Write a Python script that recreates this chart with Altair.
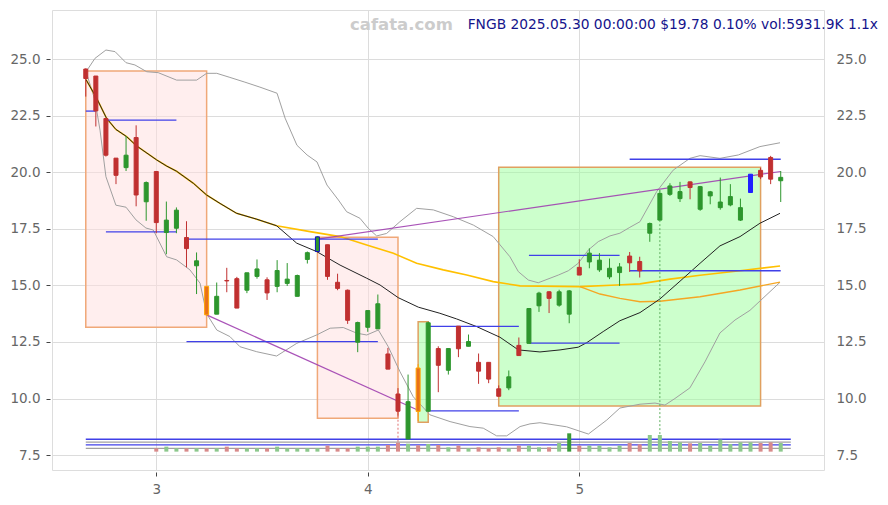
import altair as alt
import pandas as pd

TITLE = "FNGB 2025.05.30 00:00:00 $19.78 0.10% vol:5931.9K 1.1x"
WATERMARK = "cafata.com"

# ---- daily candles ----
OPEN = [24.57, 24.26, 22.38, 20.63, 20.21, 21.54, 18.70, 20.04, 17.34, 17.53,
        17.12, 15.87, 14.96, 13.73, 15.22, 15.30, 14.79, 15.40, 15.25, 14.96,
        15.09, 14.52, 16.15, 16.50, 16.80, 15.14, 14.79, 12.49, 13.15, 13.08,
        11.97, 10.20, 8.21, 11.35, 9.44, 12.21, 11.25, 13.20, 12.31, 11.60,
        11.60, 10.43, 10.47, 12.35, 12.44, 14.10, 14.72, 14.13, 13.73, 15.80,
        16.04, 15.69, 15.38, 15.57, 16.30, 16.06, 17.31, 17.89, 19.03, 18.84,
        19.58, 18.37, 18.96, 18.44, 18.56, 17.89, 19.11, 20.09, 20.66, 19.63]
HIGH = [24.60, 24.26, 22.38, 20.63, 21.61, 22.08, 19.60, 20.04, 18.71, 18.45,
        17.84, 16.46, 14.96, 15.13, 15.78, 15.38, 15.56, 16.15, 15.36, 16.12,
        15.99, 15.48, 16.50, 17.16, 16.80, 15.52, 14.82, 13.40, 13.89, 14.60,
        12.24, 10.46, 11.06, 11.52, 13.40, 12.31, 12.21, 13.20, 12.83, 11.99,
        11.60, 10.58, 11.24, 12.70, 13.98, 14.72, 14.75, 14.81, 14.80, 16.16,
        16.64, 16.43, 16.19, 15.99, 16.48, 16.27, 17.78, 19.22, 19.52, 19.58,
        19.60, 19.40, 19.18, 19.77, 19.48, 18.84, 19.92, 20.21, 20.73, 20.06]
LOW = [23.35, 22.03, 20.70, 19.48, 20.06, 18.50, 17.86, 17.31, 16.38, 17.31,
       15.80, 14.62, 13.66, 13.73, 14.70, 14.00, 14.66, 15.30, 14.36, 14.70,
       14.98, 14.52, 15.97, 16.50, 15.25, 14.79, 13.30, 12.05, 12.95, 13.08,
       11.30, 9.24, 8.21, 9.00, 9.42, 10.28, 11.06, 11.83, 12.31, 10.65,
       10.68, 10.10, 10.37, 11.90, 12.44, 13.83, 13.78, 14.06, 13.33, 15.46,
       15.76, 15.60, 15.28, 14.98, 15.60, 15.35, 16.93, 17.89, 18.96, 18.69,
       18.81, 18.30, 18.59, 18.35, 18.50, 17.85, 19.11, 19.70, 19.48, 18.69]
CLOSE = [24.15, 22.72, 20.76, 19.87, 20.76, 19.00, 19.55, 17.78, 17.89, 18.33,
         16.63, 16.09, 13.70, 14.52, 15.20, 14.00, 15.56, 15.73, 14.67, 15.66,
         15.28, 15.44, 16.45, 17.15, 15.40, 14.87, 13.46, 13.36, 13.89, 14.19,
         11.30, 9.44, 9.86, 9.43, 13.35, 11.47, 12.21, 12.20, 12.52, 11.21,
         10.86, 10.10, 10.96, 11.90, 13.98, 14.66, 14.43, 14.72, 14.76, 15.46,
         16.43, 16.12, 15.76, 15.82, 16.00, 15.65, 17.74, 19.07, 19.40, 19.15,
         19.33, 19.37, 19.14, 18.69, 18.93, 18.44, 19.92, 19.80, 19.70, 19.78]
VOLUME_K = [None, None, None, None, None, None, None,
            2280, 3420, 2280, 2280, 2280, 2280, 2280, 3420, 2280, 2280,
            2280, 2280, 3420, 2280, 2280, 2280, 2280, 4100, 2280, 2280,
            3420, 3420, 3420, 4560, 6160, 5470, 4330, 5250, 4560, 2960,
            4100, 2280, 2960, 2280, 2960, 2280, 4100, 4100, 2960, 2960,
            5930, 12540, 4100, 4100, 4100, 2960, 4100, 5930, 5020, 11400,
            11400, 7300, 6380, 5700, 5930, 4100, 8210, 5250, 6380, 6380,
            5930, 6380, 5932]
HIGHLIGHT = {12: "orange", 23: "bluegreen", 33: "orange", 66: "blue"}
VOL_HIGHLIGHT = [48]

N = len(OPEN)
# x position in month units: 21 trading days per month, candle 7 falls on 3.0
X = [(i + 56) / 21 for i in range(N + 1)]

# ---- overlay lines ----
BB_UP_X = [2.668, 2.710, 2.762, 2.805, 2.857, 2.899, 2.955, 3.009, 3.096, 3.191,
           3.238, 3.286, 3.348, 3.419, 3.490, 3.571, 3.609, 3.665, 3.713, 3.760,
           3.807, 3.861, 3.900, 3.963, 4.002, 4.042, 4.089, 4.152, 4.231, 4.310,
           4.404, 4.499, 4.593, 4.672, 4.712, 4.759, 4.806, 4.901, 4.948, 4.995,
           5.043, 5.090, 5.145, 5.192, 5.239, 5.287, 5.366, 5.444, 5.523, 5.571,
           5.665, 5.752, 5.854, 5.949]
BB_UP_Y = [24.45, 25.04, 25.41, 25.34, 24.85, 24.75, 24.45, 24.41, 24.08, 24.08,
           24.38, 24.38, 24.20, 23.99, 23.77, 23.50, 22.40, 21.20, 20.77, 20.46,
           19.44, 18.78, 18.26, 17.97, 17.53, 17.19, 17.30, 17.82, 18.41, 18.34,
           18.04, 17.67, 17.16, 16.27, 15.61, 15.24, 15.12, 15.46, 15.65, 15.98,
           16.57, 16.94, 17.19, 17.31, 17.57, 17.82, 19.15, 20.10, 20.62, 20.74,
           20.62, 20.77, 21.14, 21.31]
BB_LO_X = [2.668, 2.710, 2.734, 2.762, 2.809, 2.857, 2.904, 2.951, 2.986, 3.049,
           3.096, 3.159, 3.207, 3.238, 3.286, 3.348, 3.396, 3.475, 3.569, 3.664,
           3.758, 3.822, 3.884, 3.948, 3.995, 4.050, 4.097, 4.152, 4.215, 4.294,
           4.389, 4.483, 4.546, 4.609, 4.657, 4.720, 4.767, 4.814, 4.940, 5.043,
           5.130, 5.192, 5.287, 5.358, 5.405, 5.452, 5.523, 5.594, 5.665, 5.736,
           5.807, 5.878, 5.949]
BB_LO_Y = [24.45, 23.20, 21.87, 19.81, 18.55, 18.46, 17.90, 17.54, 17.45, 16.27,
           16.13, 15.69, 15.10, 13.75, 13.03, 12.74, 12.29, 12.07, 11.88, 12.44,
           12.81, 13.11, 13.14, 12.89, 12.81, 13.03, 12.29, 11.19, 10.08, 9.28,
           8.98, 8.76, 8.69, 8.35, 8.35, 8.76, 8.88, 8.93, 8.75, 8.43,
           9.05, 9.58, 9.75, 9.80, 9.71, 10.00, 10.47, 11.62, 12.90, 13.47,
           13.90, 14.52, 15.14]
MA_X = [2.668, 2.718, 2.765, 2.809, 2.860, 2.907, 3.002, 3.049, 3.096, 3.175,
        3.238, 3.301, 3.380, 3.475, 3.569, 3.664, 3.758, 3.869, 3.995, 4.058,
        4.144, 4.239, 4.341, 4.420, 4.515, 4.625, 4.712, 4.814, 4.909, 4.995,
        5.035, 5.113, 5.192, 5.287, 5.381, 5.492, 5.571, 5.665, 5.760, 5.854,
        5.949]
MA_Y = [24.10, 23.28, 22.39, 21.90, 21.58, 21.17, 20.55, 20.28, 20.05, 19.52,
        19.00, 18.63, 18.19, 17.93, 17.64, 16.87, 16.50, 15.90, 15.32, 15.02,
        14.46, 14.04, 13.77, 13.52, 13.18, 12.71, 12.15, 12.06, 12.15, 12.27,
        12.47, 12.96, 13.44, 13.80, 14.40, 15.32, 15.98, 16.75, 17.16, 17.75,
        18.19]
MA_LONG_X = [2.668, 2.718, 2.765, 2.809, 2.860, 2.907, 3.002, 3.049, 3.096, 3.175,
             3.238, 3.301, 3.380, 3.475, 3.569, 3.727, 3.869, 3.995, 4.121, 4.231,
             4.357, 4.468, 4.593, 4.720, 5.003, 5.177, 5.287, 5.429, 5.571, 5.760,
             5.949]
MA_LONG_Y = [24.10, 23.28, 22.39, 21.90, 21.58, 21.17, 20.55, 20.28, 20.05, 19.52,
             19.00, 18.63, 18.19, 17.93, 17.64, 17.38, 17.16, 16.79, 16.42, 15.98,
             15.69, 15.46, 15.17, 14.98, 14.95, 15.02, 15.07, 15.28, 15.45, 15.65,
             15.86]
MA_MID_X = [5.003, 5.098, 5.192, 5.287, 5.381, 5.571, 5.760, 5.949]
MA_MID_Y = [14.95, 14.62, 14.43, 14.28, 14.30, 14.50, 14.80, 15.15]

# horizontal support / resistance segments (candle index from, to, level)
SEG_FROM = [0, 2, 2, 10, 10, 34, 34, 44, 44, 54, 54, 0, 0, 0, 0]
SEG_TO = [1, 9, 9, 29, 29, 43, 43, 53, 53, 69, 69, 70, 70, 70, 70]
SEG_LEVEL = [22.71, 22.31, 17.37, 17.05, 12.52, 13.19, 9.45, 16.33, 12.45,
             20.58, 15.65, 8.20, 8.07, 7.95, 7.80]
SEG_KIND = ["blue"] * 11 + ["blue", "gray", "blue", "gray"]

# boxes (candle index from, to, low, high)
BOX_FROM = [0, 23, 33, 41]
BOX_TO = [12, 31, 34, 67]
BOX_LOW = [13.15, 9.13, 8.95, 9.67]
BOX_HIGH = [24.48, 17.13, 13.40, 20.23]
BOX_KIND = ["pink", "pink", "green", "green"]

# trend lines (candle index from, to, level from, level to)
TREND_FROM = [12, 23]
TREND_TO = [33, 69]
TREND_Y0 = [13.70, 17.05]
TREND_Y1 = [9.48, 20.04]

DOT_IDX = [31, 57]

Y_TICKS = [7.5, 10.0, 12.5, 15.0, 17.5, 20.0, 22.5, 25.0]
X_TICKS = [3, 4, 5]

# ---- styling / layout ----
UP, DOWN = "#2d962d", "#c03030"
VOL_BASE = 7.652
VOL_PER_K = 6.46e-5

FILL = {"up": UP, "down": DOWN, "orange": "#e8701a", "bluegreen": UP, "blue": "#2020ff"}
STROKE = {"up": UP, "down": DOWN, "orange": "#ffa500", "bluegreen": "#1010c0", "blue": "#2020ff"}
WICK = {"up": UP, "down": DOWN, "orange": "#ffa500", "bluegreen": "#1010c0", "blue": "#2020ff"}

rows = []
for i in range(N):
    kind = HIGHLIGHT.get(i, "up" if CLOSE[i] >= OPEN[i] else "down")
    rows.append(dict(x=X[i], open=OPEN[i], high=HIGH[i], low=LOW[i], close=CLOSE[i],
                     fillc=FILL[kind], strokec=STROKE[kind], wickc=WICK[kind]))
cdf = pd.DataFrame(rows)

vrows = []
for i in range(N):
    if VOLUME_K[i] is None:
        continue
    if i in VOL_HIGHLIGHT:
        c = "#3a9a3a"
    elif CLOSE[i] >= OPEN[i]:
        c = "#8cc88c"
    else:
        c = "#d88a8a"
    vrows.append(dict(x=X[i], vb=VOL_BASE, vt=VOL_BASE + VOLUME_K[i] * VOL_PER_K, c=c))
vdf = pd.DataFrame(vrows)

drows = []
for i in DOT_IDX:
    c = "#e07070" if CLOSE[i] < OPEN[i] else "#60b060"
    drows.append(dict(x=X[i], y0=LOW[i], y1=VOL_BASE + VOLUME_K[i] * VOL_PER_K, c=c))
ddf = pd.DataFrame(drows)

sdf = pd.DataFrame(dict(x0=[X[a] for a in SEG_FROM], x1=[X[b] for b in SEG_TO], y=SEG_LEVEL,
                        c=["#4040e8" if k == "blue" else "#a0a0a0" for k in SEG_KIND]))
bdf = pd.DataFrame(dict(x0=[X[a] for a in BOX_FROM], x1=[X[b] for b in BOX_TO], y0=BOX_LOW, y1=BOX_HIGH,
                        f=["#ffdddd" if k == "pink" else "#99ff99" for k in BOX_KIND],
                        s=["#f0a878" if k == "pink" else "#e0a060" for k in BOX_KIND]))
tdf = pd.DataFrame(dict(x0=[X[a] for a in TREND_FROM], x1=[X[b] for b in TREND_TO], y0=TREND_Y0, y1=TREND_Y1))


def line_df(name, xs_, ys_):
    return pd.DataFrame(dict(x=xs_, y=ys_, s=name, o=list(range(len(xs_)))))


bb_df = pd.concat([line_df("up", BB_UP_X, BB_UP_Y), line_df("lo", BB_LO_X, BB_LO_Y)])
ma_df = line_df("ma", MA_X, MA_Y)
mal_df = line_df("long", MA_LONG_X, MA_LONG_Y)
mam_df = line_df("mid", MA_MID_X, MA_MID_Y)

xs = alt.Scale(domain=[2.507, 6.157], nice=False, zero=False, padding=0)
ys = alt.Scale(domain=[6.84, 27.18], nice=False, zero=False, padding=0)

LAB = dict(labelColor="#666666", labelFontSize=13.5, labelFont="DejaVu Sans", title=None, domain=False)
x_axis = alt.Axis(values=X_TICKS, format="d", grid=True, gridColor="#dcdcdc", ticks=True, tickSize=4,
                  tickColor="#444444", labelPadding=6, offset=2, **LAB)
left_axis = alt.Axis(orient="left", values=Y_TICKS, format=".1f", grid=True, gridColor="#dcdcdc",
                     ticks=True, tickSize=4, tickColor="#444444", labelPadding=6, offset=2, **LAB)
right_axis = alt.Axis(orient="right", values=Y_TICKS, format=".1f", grid=False, ticks=False,
                      labelPadding=12, **LAB)


def X_(f):
    return alt.X(f, type="quantitative", scale=xs, axis=x_axis)


def Y_(f, axis=None):
    return alt.Y(f, type="quantitative", scale=ys, axis=axis)


boxes = alt.Chart(bdf).mark_rect(strokeWidth=1.5, fillOpacity=0.5).encode(
    x=X_("x0"), x2="x1:Q", y=Y_("y0", left_axis), y2="y1:Q",
    fill=alt.Fill("f:N", scale=None), stroke=alt.Stroke("s:N", scale=None))

bands = alt.Chart(bb_df).mark_line(color="#a0a0a0", strokeWidth=1).encode(
    x=X_("x"), y=Y_("y", right_axis), detail="s:N", order="o:Q")

ma_long = alt.Chart(mal_df).mark_line(color="#ffc000", strokeWidth=1.6).encode(
    x=X_("x"), y=Y_("y"), order="o:Q")
ma_mid = alt.Chart(mam_df).mark_line(color="#f5a623", strokeWidth=1.4).encode(
    x=X_("x"), y=Y_("y"), order="o:Q")
ma = alt.Chart(ma_df).mark_line(color="#222222", strokeWidth=1).encode(
    x=X_("x"), y=Y_("y"), order="o:Q")

trends = alt.Chart(tdf).mark_rule(color="#a040b0", strokeWidth=1.2, opacity=0.9).encode(
    x=X_("x0"), x2="x1:Q", y=Y_("y0"), y2="y1:Q")

segs = alt.Chart(sdf).mark_rule(strokeWidth=1.3).encode(
    x=X_("x0"), x2="x1:Q", y=Y_("y"), color=alt.Color("c:N", scale=None))

vols = alt.Chart(vdf).mark_bar(size=4).encode(
    x=X_("x"), y=Y_("vb"), y2="vt:Q", color=alt.Color("c:N", scale=None))

dots = alt.Chart(ddf).mark_rule(strokeWidth=1, strokeDash=[2, 2]).encode(
    x=X_("x"), y=Y_("y0"), y2="y1:Q", color=alt.Color("c:N", scale=None))

wicks = alt.Chart(cdf).mark_rule(strokeWidth=1).encode(
    x=X_("x"), y=Y_("low"), y2="high:Q", color=alt.Color("wickc:N", scale=None))

bodies = alt.Chart(cdf).mark_bar(size=4, strokeWidth=1).encode(
    x=X_("x"), y=Y_("open"), y2="close:Q",
    fill=alt.Fill("fillc:N", scale=None), stroke=alt.Stroke("strokec:N", scale=None))

wm = alt.Chart(pd.DataFrame(dict(t=[WATERMARK]))).mark_text(
    align="left", baseline="middle", fontSize=16.5, fontWeight="bold", color="#cccccc",
    font="DejaVu Sans").encode(x=alt.value(298), y=alt.value(15), text="t:N")

title = alt.Chart(pd.DataFrame(dict(t=[TITLE]))).mark_text(
    align="right", baseline="middle", fontSize=13.8, color="#14148c",
    font="DejaVu Sans").encode(x=alt.value(826), y=alt.value(15), text="t:N")

chart = alt.layer(
    boxes, bands, ma_long, ma_mid, ma, trends, segs, vols, dots, wicks, bodies, wm, title
).resolve_axis(y="independent").properties(
    width=772, height=460,
    autosize=alt.AutoSizeParams(type="none"),
    padding={"left": 44, "top": 2, "right": 56, "bottom": 27},
    background="white",
).configure_view(stroke=None).configure(font="DejaVu Sans")

chart.save("out.html", embed_options={"renderer": "svg", "actions": False})
